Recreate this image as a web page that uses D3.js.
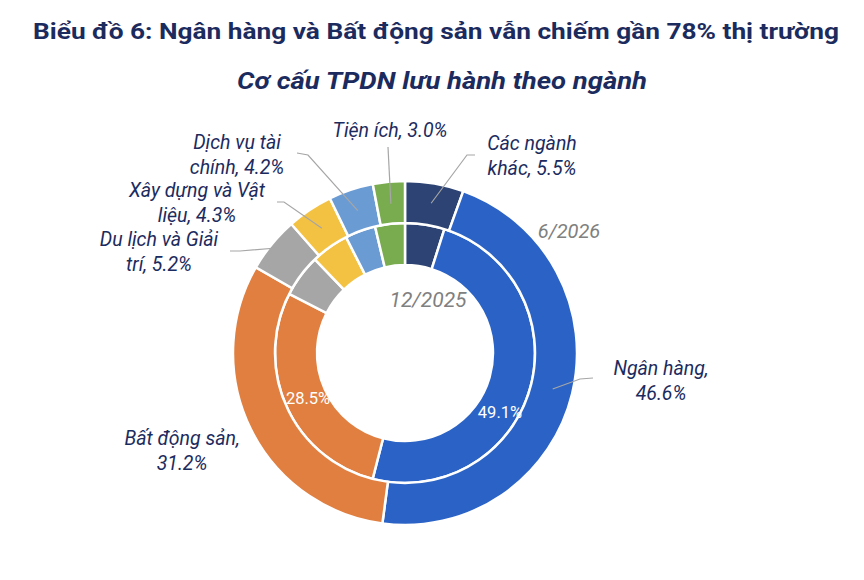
<!DOCTYPE html>
<html>
<head>
<meta charset="utf-8">
<script src="https://cdn.jsdelivr.net/npm/d3@7"></script>
<style>
  body { margin: 0; background: #fff; }
  text { font-family: Roboto, "Noto Sans", sans-serif; }
</style>
</head>
<body>
<svg id="chart" width="864" height="580"></svg>
<script>
let width = 864, height = 580;

// sectors, clockwise from 12 o'clock
let sectors = ["Các ngành khác", "Ngân hàng", "Bất động sản", "Du lịch và Giải trí",
               "Xây dựng và Vật liệu", "Dịch vụ tài chính", "Tiện ích"];
let colors = ["#2c4373", "#2a63c5", "#e07f40", "#a6a6a6", "#f4c243", "#6b9bd3", "#79ab4f"];

// 12/2025 (inner ring) and 6/2026 (outer ring), %
let share_dec2025 = [4.9, 49.1, 28.5, 5.3, 4.7, 3.8, 3.7];
let share_jun2026 = [5.5, 46.6, 31.2, 5.2, 4.3, 4.2, 3.0];

let title = "Biểu đồ 6: Ngân hàng và Bất động sản vẫn chiếm gần 78% thị trường";
let subtitle = "Cơ cấu TPDN lưu hành theo ngành";

let cx = 405, cy = 353;
let r_hole = 88, r_mid = 130, r_out = 172;

let navy = "#1c2b5e";
let svg = d3.select('#chart');

svg.append('text')
    .attr('x', 436).attr('y', 39)
    .attr('text-anchor', 'middle')
    .attr('font-size', 22.5).attr('font-weight', 700)
    .attr('fill', navy)
    .attr('textLength', 806).attr('lengthAdjust', 'spacingAndGlyphs')
    .text(title);

svg.append('text')
    .attr('x', 442).attr('y', 89)
    .attr('text-anchor', 'middle')
    .attr('font-size', 23.5).attr('font-weight', 700).attr('font-style', 'italic')
    .attr('fill', navy)
    .attr('textLength', 410).attr('lengthAdjust', 'spacingAndGlyphs')
    .text(subtitle);

var pie = d3.pie().sort(null).value((d) => d);
var g = svg.append('g').attr('transform', 'translate(' + cx + ',' + cy + ')');

function drawRing(values, r0, r1) {
    var arc = d3.arc().innerRadius(r0).outerRadius(r1);
    g.append('g').selectAll('path')
        .data(pie(values))
        .enter().append('path')
        .attr('d', arc)
        .attr('fill', (d, i) => colors[i])
        .attr('stroke', '#fff')
        .attr('stroke-width', 2.5);
    return pie(values);
}

var inner = drawRing(share_dec2025, r_hole, r_mid);
var outer = drawRing(share_jun2026, r_mid, r_out);

function polar(angle, r) {
    return [r * Math.sin(angle), -r * Math.cos(angle)];
}
function mid(d) { return (d.startAngle + d.endAngle) / 2; }

// outer ring labels: label centre/baseline, leader start, leader radius on slice
let fmt = (v) => v.toFixed(1) + '%';
var outerLabels = [
    { i: 0, lines: ["Các ngành", "khác, " + fmt(share_jun2026[0])], x: 532, y: 150, lead: [[475, 155], [467, 155]], lr: 152 },
    { i: 1, lines: ["Ngân hàng,", fmt(share_jun2026[1])], x: 661, y: 375, lead: [[593, 378], [580, 379]], lr: 152 },
    { i: 2, lines: ["Bất động sản,", fmt(share_jun2026[2])], x: 182, y: 445, lead: null },
    { i: 3, lines: ["Du lịch và Giải", "trí, " + fmt(share_jun2026[3])], x: 159, y: 246, lead: [[230, 251], [240, 251]], lr: 166 },
    { i: 4, lines: ["Xây dựng và Vật", "liệu, " + fmt(share_jun2026[4])], x: 197, y: 197, lead: [[277, 202], [284, 202]], lr: 150 },
    { i: 5, lines: ["Dịch vụ tài", "chính, " + fmt(share_jun2026[5])], x: 237, y: 149, lead: [[297, 153], [308, 155]], lr: 150 },
    { i: 6, lines: ["Tiện ích, " + fmt(share_jun2026[6])], x: 390, y: 137, lead: [[388, 147]], lr: 150 }
];

var line = d3.line();
outerLabels.forEach(function(l) {
    if (l.lead) {
        var p = polar(mid(outer[l.i]), l.lr);
        var pts = l.lead.concat([[cx + p[0], cy + p[1]]]);
        svg.append('path')
            .attr('d', line(pts))
            .attr('fill', 'none')
            .attr('stroke', '#a6a6a6')
            .attr('stroke-width', 1.2);
    }
    var t = svg.append('text')
        .attr('text-anchor', 'middle')
        .attr('font-size', 19.5).attr('font-style', 'italic')
        .attr('fill', navy);
    l.lines.forEach(function(s, k) {
        t.append('tspan').attr('x', l.x).attr('y', l.y + k * 25).text(s);
    });
});

// inner ring value labels
var innerLabels = [
    { i: 1, angle: 122, r: 112, dy: 6 },
    { i: 2, angle: 245, r: 107, dy: 6 }
];
innerLabels.forEach(function(l) {
    var p = polar(l.angle * Math.PI / 180, l.r);
    svg.append('text')
        .attr('x', cx + p[0]).attr('y', cy + p[1] + l.dy)
        .attr('text-anchor', 'middle')
        .attr('font-size', 16.5)
        .attr('fill', '#fff')
        .text(fmt(share_dec2025[l.i]));
});

// series names
svg.append('text')
    .attr('x', 569).attr('y', 238)
    .attr('text-anchor', 'middle')
    .attr('font-size', 20).attr('font-style', 'italic')
    .attr('fill', '#808080')
    .text("6/2026");
svg.append('text')
    .attr('x', 428).attr('y', 307)
    .attr('text-anchor', 'middle')
    .attr('font-size', 21).attr('font-style', 'italic')
    .attr('fill', '#808080')
    .text("12/2025");
</script>
</body>
</html>
